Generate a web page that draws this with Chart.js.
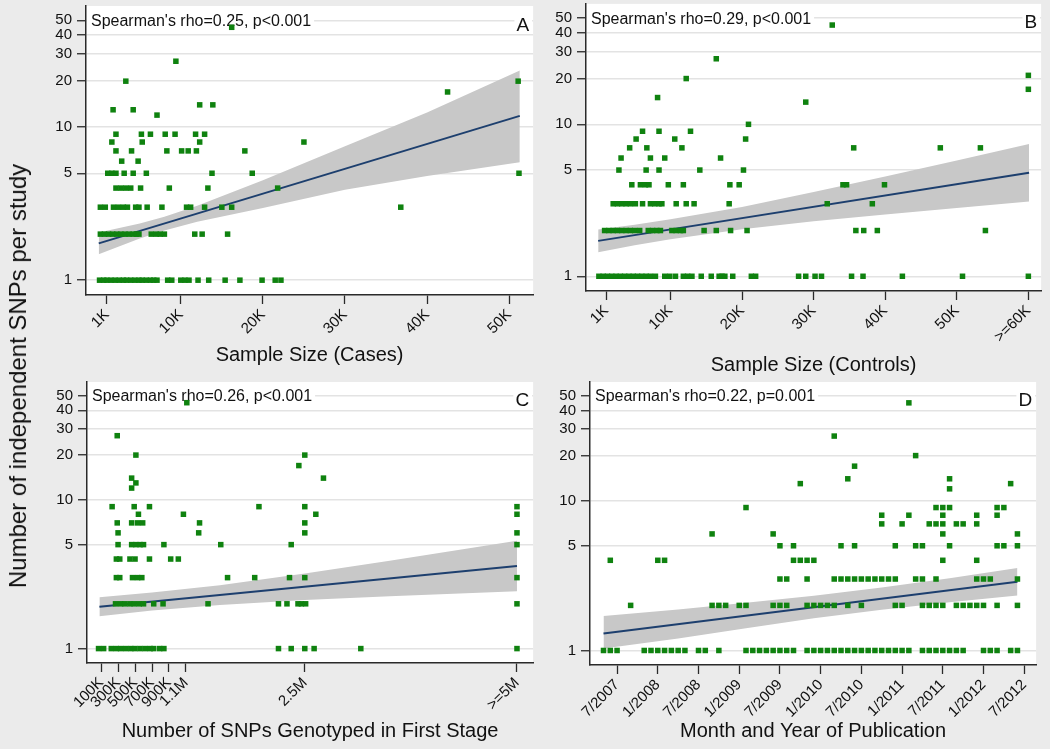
<!DOCTYPE html>
<html><head><meta charset="utf-8">
<script src="https://cdn.jsdelivr.net/npm/chart.js@4.4.1/dist/chart.umd.min.js"></script>
<style>
html,body{margin:0;padding:0;background:#ebebeb;}
body{width:1050px;height:749px;position:relative;overflow:hidden;font-family:'Liberation Sans',Arial,sans-serif;}
canvas{position:absolute;}
#ytitle{position:absolute;left:18px;top:376px;transform:translate(-50%,-50%) rotate(-90deg);font-size:24px;white-space:nowrap;color:#111;line-height:1;}
</style></head><body>
<canvas id="cA" width="537" height="378" style="left:0;top:0"></canvas>
<canvas id="cB" width="545" height="378" style="left:500px;top:0"></canvas>
<canvas id="cC" width="537" height="374" style="left:0;top:375px"></canvas>
<canvas id="cD" width="540" height="374" style="left:500px;top:375px"></canvas>
<div id="ytitle">Number of independent SNPs per study</div>
<script>
// ---------- shared axis data ----------
const yTickValues = [1, 5, 10, 20, 30, 40, 50];
const yTickLabels = ['1', '5', '10', '20', '30', '40', '50'];
const panelLetters = ['A', 'B', 'C', 'D'];
const rhoLabels = ["Spearman's rho=0.25, p<0.001", "Spearman's rho=0.29, p<0.001", "Spearman's rho=0.26, p<0.001", "Spearman's rho=0.22, p=0.001"];
const xTitles = ['Sample Size (Cases)', 'Sample Size (Controls)', 'Number of SNPs Genotyped in First Stage', 'Month and Year of Publication'];

// ---------- Panel A: cases (thousands) ----------
const casesTickValues = [1, 10, 20, 30, 40, 50];
const casesTickLabels = ['1K', '10K', '20K', '30K', '40K', '50K'];
const casesX = [16.2, 9.4, 3.3, 51.1, 42.5, 12.3, 13.9, 1.75, 4.2, 7.1,
  2.1, 5.2, 6.3, 8.1, 9.3, 11.8, 12.9,
  1.6, 5.3, 12.3, 25.0,
  2.1, 4.0, 8.3, 10.1, 10.9, 11.9, 17.8,
  2.8, 4.8,
  1.1, 1.6, 2.1, 3.1, 4.2, 5.8, 13.8, 18.7, 51.2,
  2.1, 2.7, 3.3, 3.9, 5.1, 8.6, 13.3, 21.8,
  0.2, 0.8, 1.8, 2.4, 3.0, 3.5, 4.5, 4.9, 5.9, 7.7, 10.7, 11.2, 12.9, 15.0, 16.2, 36.8,
  0.2, 0.7, 1.2, 1.7, 2.2, 2.7, 3.2, 3.7, 4.2, 4.6, 4.9, 6.4, 7.0, 7.5, 8.0, 11.7, 12.6, 15.7,
  0.1, 0.6, 1.0, 1.5, 2.0, 2.5, 3.0, 3.4, 3.9, 4.4, 4.9, 5.3, 5.8, 6.3, 6.7, 7.1, 8.4, 8.9, 10.0, 10.5, 11.0, 12.1, 13.4, 15.4, 17.2, 19.9, 21.5, 22.2];
const casesY = [45, 27, 20, 20, 17, 14, 14, 13, 13, 12,
  9, 9, 9, 9, 9, 9, 9,
  8, 8, 8, 8,
  7, 7, 7, 7, 7, 7, 7,
  6, 6,
  5, 5, 5, 5, 5, 5, 5, 5, 5,
  4, 4, 4, 4, 4, 4, 4, 4,
  3, 3, 3, 3, 3, 3, 3, 3, 3, 3, 3, 3, 3, 3, 3, 3,
  2, 2, 2, 2, 2, 2, 2, 2, 2, 2, 2, 2, 2, 2, 2, 2, 2, 2,
  1, 1, 1, 1, 1, 1, 1, 1, 1, 1, 1, 1, 1, 1, 1, 1, 1, 1, 1, 1, 1, 1, 1, 1, 1, 1, 1, 1];
const casesFitX = [0.0, 51.3];
const casesFitY = [1.74, 11.86];
const casesBandX = [0, 5, 8, 12, 20, 30, 40, 51.3];
const casesBandLo = [1.48, 1.87, 2.11, 2.41, 2.96, 3.90, 4.80, 5.90];
const casesBandHi = [2.05, 2.35, 2.60, 3.07, 4.50, 7.50, 12.5, 23.5];

// ---------- Panel B: controls (thousands) ----------
const controlsTickValues = [1, 10, 20, 30, 40, 50, 60];
const controlsTickLabels = ['1K', '10K', '20K', '30K', '40K', '50K', '>=60K'];
const controlsX = [32.6, 16.4, 60, 12.2, 60, 8.2, 28.9, 20.9,
  6.1, 8.4, 12.8,
  5.2, 10.6, 20.5,
  4.3, 6.7, 11.6, 35.6, 47.7, 53.3,
  3.1, 7.2, 9.2, 17.0,
  2.8, 6.6, 8.4, 14.1, 20.2,
  4.6, 5.8, 6.5, 7.0, 9.7, 11.8, 18.3, 19.6, 34.1, 34.6, 39.9,
  2.0, 2.6, 3.2, 3.8, 4.4, 5.1, 6.1, 7.2, 7.8, 8.4, 8.8, 10.8, 12.2, 13.3, 18.2, 31.9, 38.2,
  0.8, 1.4, 2.0, 2.6, 3.2, 3.8, 4.4, 5.0, 5.7, 6.9, 7.5, 8.1, 8.6, 10.2, 10.8, 11.4, 11.8, 14.7, 16.4, 18.4, 20.7, 35.9, 37.0, 38.9, 54.0,
  0.0, 0.6, 1.2, 1.8, 2.4, 3.0, 3.6, 4.2, 4.8, 5.4, 6.0, 6.6, 7.2, 7.9, 9.2, 9.9, 10.7, 11.8, 12.4, 13.0, 14.3, 15.7, 16.8, 17.2, 17.6, 18.7, 21.3, 21.9, 27.9, 28.9, 30.2, 31.1, 35.3, 36.9, 42.4, 50.8, 60];
const controlsY = [45, 27, 21, 20, 17, 15, 14, 10,
  9, 9, 9,
  8, 8, 8,
  7, 7, 7, 7, 7, 7,
  6, 6, 6, 6,
  5, 5, 5, 5, 5,
  4, 4, 4, 4, 4, 4, 4, 4, 4, 4, 4,
  3, 3, 3, 3, 3, 3, 3, 3, 3, 3, 3, 3, 3, 3, 3, 3, 3,
  2, 2, 2, 2, 2, 2, 2, 2, 2, 2, 2, 2, 2, 2, 2, 2, 2, 2, 2, 2, 2, 2, 2, 2, 2,
  1, 1, 1, 1, 1, 1, 1, 1, 1, 1, 1, 1, 1, 1, 1, 1, 1, 1, 1, 1, 1, 1, 1, 1, 1, 1, 1, 1, 1, 1, 1, 1, 1, 1, 1, 1, 1];
const controlsFitX = [-0.1, 60.1];
const controlsFitY = [1.71, 4.80];
const controlsBandX = [-0.1, 5, 10, 20, 30, 40, 50, 60.1];
const controlsBandLo = [1.44, 1.60, 1.75, 2.04, 2.30, 2.55, 2.81, 3.10];
const controlsBandHi = [2.03, 2.18, 2.37, 2.86, 3.58, 4.54, 5.79, 7.43];

// ---------- Panel C: SNPs genotyped (millions) ----------
const snpsTickValues = [0.1, 0.3, 0.5, 0.7, 0.9, 1.1, 2.5, 5.0];
const snpsTickLabels = ['100K', '300K', '500K', '700K', '900K', '1.1M', '2.5M', '>=5M'];
const snpsX = [1.11, 0.29, 0.51, 2.5, 2.43, 0.46, 2.72, 0.51, 0.46,
  0.23, 0.49, 0.67, 1.96, 2.5, 5.0,
  0.54, 1.07, 2.63, 5.0,
  0.29, 0.46, 0.53, 0.59, 1.26, 2.5,
  0.30, 1.25, 2.5, 5.0,
  0.30, 0.46, 0.51, 0.56, 0.60, 0.84, 1.51, 2.34, 5.0,
  0.28, 0.32, 0.44, 0.50, 0.67, 0.92, 1.01,
  0.28, 0.32, 0.47, 0.53, 0.58, 1.59, 1.91, 2.32, 2.5, 5.0,
  0.27, 0.33, 0.38, 0.44, 0.49, 0.55, 0.60, 0.72, 0.83, 1.36, 2.19, 2.29, 2.42, 2.46, 2.51, 5.0,
  0.07, 0.13, 0.22, 0.28, 0.33, 0.39, 0.45, 0.50, 0.56, 0.62, 0.68, 0.72, 0.79, 0.84, 2.19, 2.34, 2.5, 2.61, 3.16, 5.0];
const snpsY = [45, 27, 20, 20, 17, 14, 14, 13, 12,
  9, 9, 9, 9, 9, 9,
  8, 8, 8, 8,
  7, 7, 7, 7, 7, 7,
  6, 6, 6, 6,
  5, 5, 5, 5, 5, 5, 5, 5, 5,
  4, 4, 4, 4, 4, 4, 4,
  3, 3, 3, 3, 3, 3, 3, 3, 3, 3,
  2, 2, 2, 2, 2, 2, 2, 2, 2, 2, 2, 2, 2, 2, 2, 2,
  1, 1, 1, 1, 1, 1, 1, 1, 1, 1, 1, 1, 1, 1, 1, 1, 1, 1, 1, 1];
const snpsFitX = [0.08, 5.0];
const snpsFitY = [1.91, 3.59];
const snpsBandX = [0.08, 0.7, 1.5, 2.5, 3.5, 5.0];
const snpsBandLo = [1.65, 1.80, 1.96, 2.12, 2.25, 2.43];
const snpsBandHi = [2.21, 2.38, 2.67, 3.20, 3.89, 5.30];

// ---------- Panel D: month of publication (months since Jan 2007) ----------
const monthTickValues = [6, 12, 18, 24, 30, 36, 42, 48, 54, 60, 66];
const monthTickLabels = ['7/2007', '1/2008', '7/2008', '1/2009', '7/2009', '1/2010', '7/2010', '1/2011', '7/2011', '1/2012', '7/2012'];
const monthX = [49, 38, 50, 41, 40, 55, 33, 64, 55,
  25, 53, 54, 55, 62, 63,
  45, 49, 54, 59, 62,
  45, 48, 52, 53, 54, 56, 57, 59,
  20, 29, 54, 65,
  30, 32, 39, 41, 47, 50, 51, 55, 62, 63, 65,
  5, 12, 13, 32, 33, 34, 35, 54, 59,
  30, 31, 34, 38, 39, 40, 41, 42, 43, 44, 45, 46, 47, 50, 51, 53, 59, 60, 61, 65,
  8, 20, 21, 22, 24, 25, 29, 30, 31, 34, 35, 36, 37, 38, 40, 42, 47, 48, 51, 52, 53, 54, 56, 57, 58, 59, 60, 62, 65,
  4, 5, 6, 10, 11, 12, 13, 14, 15, 16, 18, 19, 21, 25, 26, 27, 28, 29, 30, 31, 32,
  34, 35, 36, 37, 38, 39, 40, 41, 42, 43, 44, 45, 46, 47, 48, 49, 51, 52, 53, 54, 55, 56, 57, 60, 61, 62, 64, 65];
const monthY = [45, 27, 20, 17, 14, 14, 13, 13, 12,
  9, 9, 9, 9, 9, 9,
  8, 8, 8, 8, 8,
  7, 7, 7, 7, 7, 7, 7, 7,
  6, 6, 6, 6,
  5, 5, 5, 5, 5, 5, 5, 5, 5, 5, 5,
  4, 4, 4, 4, 4, 4, 4, 4, 4,
  3, 3, 3, 3, 3, 3, 3, 3, 3, 3, 3, 3, 3, 3, 3, 3, 3, 3, 3, 3,
  2, 2, 2, 2, 2, 2, 2, 2, 2, 2, 2, 2, 2, 2, 2, 2, 2, 2, 2, 2, 2, 2, 2, 2, 2, 2, 2, 2, 2,
  1, 1, 1, 1, 1, 1, 1, 1, 1, 1, 1, 1, 1, 1, 1, 1, 1, 1, 1, 1, 1,
  1, 1, 1, 1, 1, 1, 1, 1, 1, 1, 1, 1, 1, 1, 1, 1, 1, 1, 1, 1, 1, 1, 1, 1, 1, 1, 1, 1];
const monthFitX = [4, 65];
const monthFitY = [1.30, 2.88];
const monthBandX = [4, 15, 25, 35, 45, 55, 65];
const monthBandLo = [1.03, 1.20, 1.41, 1.64, 1.87, 2.10, 2.33];
const monthBandHi = [1.70, 1.88, 2.08, 2.32, 2.63, 3.04, 3.56];

// ---------- drawing ----------
const FONT = "'Liberation Sans', Arial, sans-serif";
const INK = '#111111';
const AXIS = '#2a2a2a';

function pts(xs, ys) { return xs.map((x, i) => ({ x: x, y: ys[i] })); }

function makePanel(p) {
  const decor = {
    id: 'decor',
    beforeDraw(chart) {
      const a = chart.chartArea, c = chart.ctx;
      c.save(); c.fillStyle = '#ffffff';
      c.fillRect(a.left, a.top, a.right - a.left, a.bottom - a.top);
      c.restore();
    },
    beforeDatasetsDraw(chart) {
      const a = chart.chartArea, c = chart.ctx;
      const y50 = chart.scales.y.getPixelForValue(50);
      c.save();
      c.font = '16px ' + FONT;
      c.textBaseline = 'middle';
      const tx = a.left + 5;
      const tw = c.measureText(p.rho).width;
      c.fillStyle = '#ffffff';
      c.fillRect(a.left + 1, y50 - 8, tw + 7, 16);
      c.fillStyle = INK; c.textAlign = 'left';
      c.fillText(p.rho, tx, y50 + 1);
      c.font = '19px ' + FONT;
      const lw = c.measureText(p.letter).width;
      const ly = y50 + 4;
      c.fillStyle = '#ffffff';
      c.fillRect(a.right - 6 - lw, ly - 9, lw + 5, 18);
      c.fillStyle = INK; c.textAlign = 'right';
      c.fillText(p.letter, a.right - 4, ly + 1);
      c.restore();
    }
  };
  return new Chart(document.getElementById(p.id), {
    type: 'scatter',
    data: {
      datasets: [
        { type: 'line', data: pts(p.bandX, p.bandLo), borderWidth: 1, borderColor: 'rgba(0,0,0,0)', pointRadius: 0, fill: false, order: 3 },
        { type: 'line', data: pts(p.bandX, p.bandHi), borderWidth: 1, borderColor: 'rgba(0,0,0,0)', pointRadius: 0, fill: '-1', backgroundColor: '#c8c8c8', order: 3 },
        { type: 'line', data: pts(p.fitX, p.fitY), borderColor: '#1d3f6e', borderWidth: 2, pointRadius: 0, fill: false, order: 2 },
        { data: pts(p.xs, p.ys), pointStyle: 'rect', pointRadius: 3.9, pointHoverRadius: 3.9, backgroundColor: '#0f820f', borderWidth: 0, order: 1 }
      ]
    },
    options: {
      responsive: false, animation: false, devicePixelRatio: 1, events: [],
      layout: { padding: { top: p.padTop, left: 0, right: 0, bottom: 0 } },
      plugins: { legend: { display: false }, tooltip: { enabled: false } },
      scales: {
        x: {
          type: 'linear', min: p.xMin, max: p.xMax,
          afterBuildTicks(s) { s.ticks = p.xTicks.map(v => ({ value: v })); },
          afterFit(s) { s.height = p.xAxisHeight; s.paddingLeft = 0; s.paddingRight = 0; },
          grid: { drawOnChartArea: false, drawTicks: true, tickLength: 9, tickColor: AXIS, tickWidth: 1.3 },
          border: { display: true, color: AXIS, width: 1.5 },
          ticks: { autoSkip: false, minRotation: 45, maxRotation: 45, padding: 2, color: INK, font: { family: FONT, size: 15 }, callback: (v, i) => p.xLabels[i] },
          title: { display: true, text: p.xTitle, color: INK, font: { family: FONT, size: 20 }, padding: { top: 0, bottom: p.titlePad } }
        },
        y: {
          type: 'logarithmic', min: 0.8, max: 62,
          afterBuildTicks(s) { s.ticks = yTickValues.map(v => ({ value: v })); },
          afterFit(s) { s.width = p.yAxisWidth; s.paddingTop = 0; s.paddingBottom = 0; },
          grid: { color: '#e3e3e3', lineWidth: 1.5, drawTicks: true, tickLength: 9, tickColor: AXIS, tickWidth: 1.3 },
          border: { display: true, color: AXIS, width: 1.5 },
          ticks: { padding: 5, color: INK, font: { family: FONT, size: 15 }, callback: (v, i) => yTickLabels[i] }
        }
      }
    },
    plugins: [decor]
  });
}

makePanel({ id: 'cA', xs: casesX, ys: casesY, fitX: casesFitX, fitY: casesFitY, bandX: casesBandX, bandLo: casesBandLo, bandHi: casesBandHi,
  xMin: -1.55, xMax: 52.92, xTicks: casesTickValues, xLabels: casesTickLabels, xTitle: xTitles[0],
  padTop: 6, yAxisWidth: 86, xAxisHeight: 83, titlePad: 11, rho: rhoLabels[0], letter: panelLetters[0] });
makePanel({ id: 'cB', xs: controlsX, ys: controlsY, fitX: controlsFitX, fitY: controlsFitY, bandX: controlsBandX, bandLo: controlsBandLo, bandHi: controlsBandHi,
  xMin: -1.80, xMax: 61.78, xTicks: controlsTickValues, xLabels: controlsTickLabels, xTitle: xTitles[1],
  padTop: 3, yAxisWidth: 86, xAxisHeight: 87, titlePad: 1, rho: rhoLabels[1], letter: panelLetters[1] });
makePanel({ id: 'cC', xs: snpsX, ys: snpsY, fitX: snpsFitX, fitY: snpsFitY, bandX: snpsBandX, bandLo: snpsBandLo, bandHi: snpsBandHi,
  xMin: -0.066, xMax: 5.19, xTicks: snpsTickValues, xLabels: snpsTickLabels, xTitle: xTitles[2],
  padTop: 7, yAxisWidth: 87, xAxisHeight: 86, titlePad: 6, rho: rhoLabels[2], letter: panelLetters[2] });
makePanel({ id: 'cD', xs: monthX, ys: monthY, fitX: monthFitX, fitY: monthFitY, bandX: monthBandX, bandLo: monthBandLo, bandHi: monthBandHi,
  xMin: 2.01, xMax: 67.75, xTicks: monthTickValues, xLabels: monthTickLabels, xTitle: xTitles[3],
  padTop: 7, yAxisWidth: 90, xAxisHeight: 84, titlePad: 6, rho: rhoLabels[3], letter: panelLetters[3] });
</script>
</body></html>
